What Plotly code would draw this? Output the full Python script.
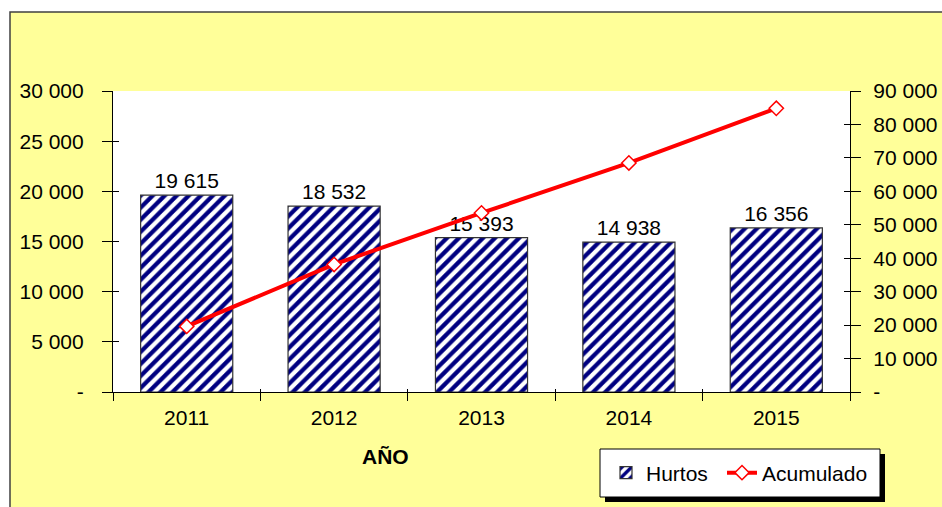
import plotly.graph_objects as go

years = ["2011", "2012", "2013", "2014", "2015"]
hurtos = [19615, 18532, 15393, 14938, 16356]
acumulado = [19615, 38147, 53540, 68478, 84834]
hurtos_labels = ["19 615", "18 532", "15 393", "14 938", "16 356"]
left_tickvals = [0, 5000, 10000, 15000, 20000, 25000, 30000]
left_ticktext = ["-", "5 000", "10 000", "15 000", "20 000", "25 000", "30 000"]
right_tickvals = [0, 10000, 20000, 30000, 40000, 50000, 60000, 70000, 80000, 90000]
right_ticktext = ["-", "10 000", "20 000", "30 000", "40 000", "50 000", "60 000", "70 000", "80 000", "90 000"]

OFF = 0  # body margin removed by post_script
W, H = 942, 507
# screen coordinates of the plot area
SL, SR, ST, SB = 113, 850, 91, 392
L, R, T, B = SL - OFF, SR - OFF, ST - OFF, SB - OFF
pw, ph = R - L, B - T


def px(xs):
    return (xs - OFF - L) / pw


def py(ys):
    return (B - (ys - OFF)) / ph


FONT = "Liberation Sans, Arial, sans-serif"
FS = 21

fig = go.Figure()
fig.add_trace(go.Bar(
    x=years, y=hurtos, name="Hurtos", width=0.625,
    marker=dict(color="white", line=dict(color="#333333", width=1.2),
                pattern=dict(shape="/", fgcolor="#000080", bgcolor="white", size=8.5,
                             solidity=0.5, fgopacity=1)),
    text=hurtos_labels, textposition="outside", cliponaxis=False,
    textfont=dict(family=FONT, size=FS, color="black"),
    hoverinfo="skip", legend="legend",
))
fig.add_trace(go.Scatter(
    x=years, y=acumulado, name="Acumulado", yaxis="y2", mode="lines+markers",
    line=dict(color="#FF0000", width=4),
    marker=dict(symbol="diamond", size=11, color="white", line=dict(color="#FF0000", width=1.5)),
    hoverinfo="skip", legend="legend2",
))
# dummy traces for inner tick overlays
fig.add_trace(go.Scatter(x=[], y=[], yaxis="y3", showlegend=False))
fig.add_trace(go.Scatter(x=[], y=[], yaxis="y4", showlegend=False))
fig.add_trace(go.Scatter(x=[], y=[], xaxis="x2", yaxis="y", showlegend=False))

shapes = [
    dict(type="rect", xref="paper", yref="paper", x0=px(10), x1=px(980), y0=py(540), y1=py(12),
         fillcolor="#FFFF99", line=dict(color="#404040", width=1.5), layer="below"),
    dict(type="rect", xref="paper", yref="paper", x0=0, x1=1, y0=0, y1=1,
         fillcolor="white", line=dict(width=0), layer="below"),
    # legend shadow and box
    dict(type="rect", xref="paper", yref="paper", x0=px(605), x1=px(885), y0=py(502), y1=py(454),
         fillcolor="black", line=dict(width=0), layer="above"),
    dict(type="rect", xref="paper", yref="paper", x0=px(600), x1=px(880), y0=py(497), y1=py(449),
         fillcolor="white", line=dict(color="black", width=1), layer="above"),
]

legend_common = dict(orientation="h", yanchor="middle", xanchor="left",
                     bgcolor="rgba(0,0,0,0)", borderwidth=0,
                     font=dict(family=FONT, size=FS, color="black"))

fig.update_layout(
    width=W, height=H,
    margin=dict(l=L, r=W - R, t=T, b=H - B, autoexpand=False),
    paper_bgcolor="white", plot_bgcolor="white",
    font=dict(family=FONT, size=FS, color="black"),
    showlegend=True,
    xaxis=dict(type="category", showline=True, linecolor="black", linewidth=1.2,
               ticks="outside", ticklen=8, tickcolor="black", tickson="boundaries",
               ticklabelstandoff=7,
               showgrid=False, tickfont=dict(size=FS), range=[-0.5, 4.5]),
    xaxis2=dict(overlaying="x", range=[-0.5, 4.5], tickvals=[-0.5, 0.5, 1.5, 2.5, 3.5, 4.5],
                ticks="inside", ticklen=3, tickcolor="black", showticklabels=False,
                showgrid=False, showline=False, zeroline=False, anchor="y"),
    yaxis=dict(range=[0, 30000], tickvals=left_tickvals, ticktext=left_ticktext,
               showline=True, linecolor="black", linewidth=1.2, ticks="outside", ticklen=10,
               tickcolor="black", showgrid=False, zeroline=False, ticklabelstandoff=14),
    yaxis2=dict(range=[0, 90000], tickvals=right_tickvals, ticktext=right_ticktext,
                overlaying="y", side="right", anchor="x",
                showline=True, linecolor="black", linewidth=1.2, ticks="outside", ticklen=10,
                tickcolor="black", showgrid=False, zeroline=False, ticklabelstandoff=8),
    yaxis3=dict(range=[0, 30000], tickvals=left_tickvals, overlaying="y", side="left", anchor="x",
                ticks="inside", ticklen=6, tickcolor="black", showticklabels=False,
                showgrid=False, showline=False, zeroline=False),
    yaxis4=dict(range=[0, 90000], tickvals=right_tickvals, overlaying="y", side="right", anchor="x",
                ticks="inside", ticklen=6, tickcolor="black", showticklabels=False,
                showgrid=False, showline=False, zeroline=False),
    legend=dict(x=px(606), y=py(473), **legend_common),
    legend2=dict(x=px(722), y=py(473), **legend_common),
    shapes=shapes,
    annotations=[dict(text="<b>AÑO</b>", x=px(385), y=py(456), xref="paper", yref="paper",
                      xanchor="center", yanchor="middle",
                      showarrow=False, font=dict(family=FONT, size=FS, color="black"))],
)

fig.write_html(
    "out.html",
    config={"displayModeBar": False},
    post_script="document.body.style.margin='0';document.body.style.overflow='hidden';",
)
